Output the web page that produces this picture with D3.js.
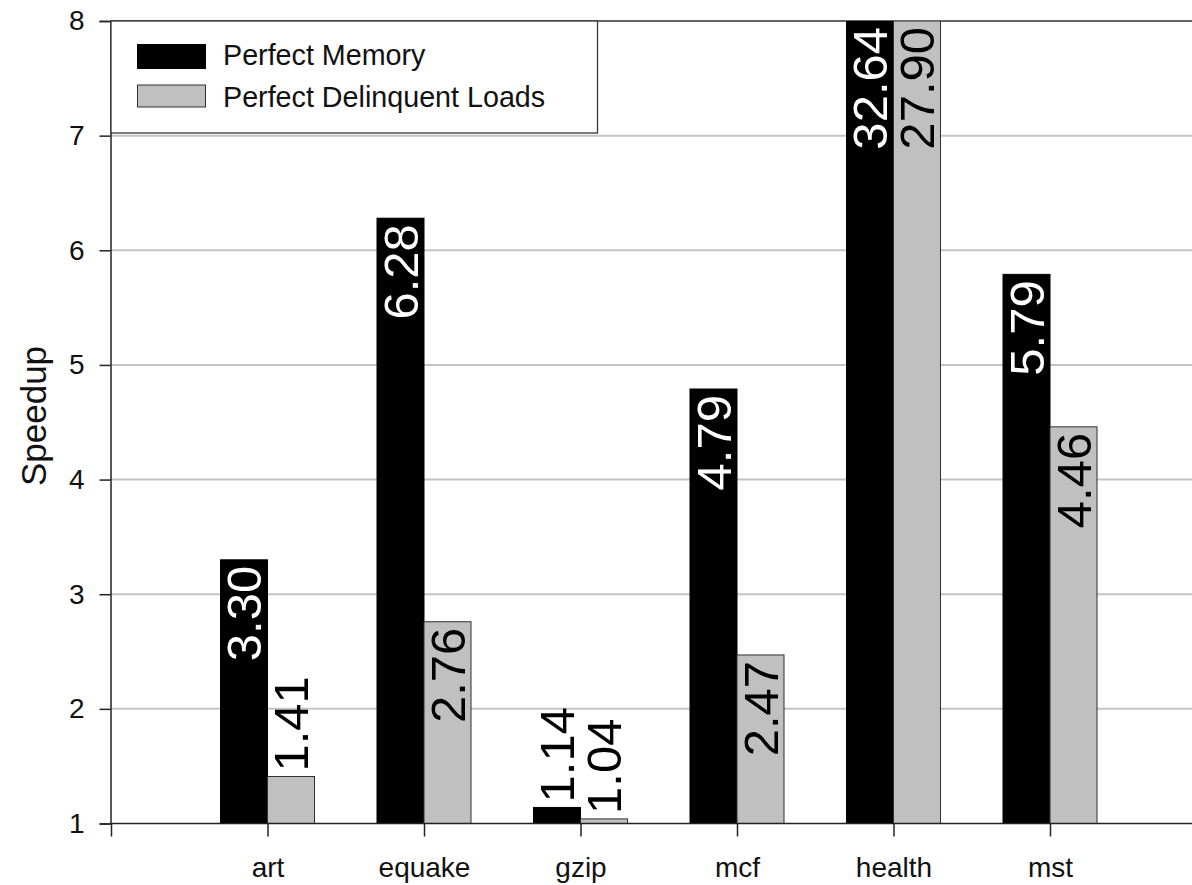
<!DOCTYPE html>
<html>
<head>
<meta charset="utf-8">
<script src="https://cdn.jsdelivr.net/npm/d3@7"></script>
<style>
  html, body { margin: 0; padding: 0; background: #fff; }
  svg { display: block; font-family: "Liberation Sans", Arial, sans-serif; }
</style>
</head>
<body>
<svg id="chart" width="1192" height="885"></svg>
<script>
const categories = ["art", "equake", "gzip", "mcf", "health", "mst"];
const perfectMemory = [3.30, 6.28, 1.14, 4.79, 32.64, 5.79];
const perfectDelinquent = [1.41, 2.76, 1.04, 2.47, 27.90, 4.46];
const seriesNames = ["Perfect Memory", "Perfect Delinquent Loads"];
const yTicks = [1, 2, 3, 4, 5, 6, 7, 8];

(function () {
const svg = d3.select("#chart");
const W = 1192, H = 885;
const mLeft = 110.5, mTop = 21, mBottom = 823.5;
const step = 156.5;

const x = d3.scaleLinear().domain([0, 7]).range([111, 111 + 7 * step]);
const y = d3.scaleLinear().domain([1, 8]).range([mBottom, mTop]);
const barW = 47;

const series = [
  { name: seriesNames[0], values: perfectMemory, fill: "#000000", stroke: "#000000", offset: -1, text: "#ffffff" },
  { name: seriesNames[1], values: perfectDelinquent, fill: "#c0c0c0", stroke: "#303030", offset: 0, text: "#000000" }
];

svg.append("defs").append("clipPath").attr("id", "plotclip")
  .append("rect").attr("x", mLeft).attr("y", mTop).attr("width", W - mLeft).attr("height", mBottom - mTop);

// gridlines
svg.append("g").selectAll("line").data(yTicks.filter(d => d > 1 && d < 8)).join("line")
  .attr("x1", mLeft).attr("x2", W)
  .attr("y1", d => y(d)).attr("y2", d => y(d))
  .attr("stroke", "#c4c4c4").attr("stroke-width", 2);

// top border
svg.append("line").attr("x1", mLeft).attr("x2", W).attr("y1", y(8)).attr("y2", y(8))
  .attr("stroke", "#333").attr("stroke-width", 1.5);

// bars
const gBars = svg.append("g").attr("clip-path", "url(#plotclip)");
series.forEach(s => {
  gBars.selectAll(null).data(s.values).join("rect")
    .attr("x", (d, i) => x(i + 1) + s.offset * barW)
    .attr("width", barW)
    .attr("y", d => y(Math.min(d, 8)))
    .attr("height", d => mBottom - y(Math.min(d, 8)))
    .attr("fill", s.fill)
    .attr("stroke", s.stroke)
    .attr("stroke-width", 1);
});

// axes
const yAxis = d3.axisLeft(y).tickValues(yTicks).tickFormat(d3.format("d")).tickSize(11).tickPadding(15);
const gy = svg.append("g").attr("transform", `translate(${mLeft},0)`).call(yAxis);
gy.select(".domain").attr("stroke", "#222").attr("stroke-width", 1.5);
gy.selectAll(".tick line").attr("stroke", "#222").attr("stroke-width", 1.5);
gy.selectAll(".tick text").attr("font-size", 28).attr("fill", "#111")
  .attr("font-family", "'Liberation Sans', Arial, sans-serif");

const xAxis = d3.axisBottom(x).tickValues([0, 1, 2, 3, 4, 5, 6])
  .tickFormat(i => i === 0 ? "" : categories[i - 1]).tickSize(13).tickPadding(21);
const gx = svg.append("g").attr("transform", `translate(0,${mBottom})`).call(xAxis);
gx.select(".domain").attr("d", `M${mLeft},0H${W}`).attr("stroke", "#222").attr("stroke-width", 1.5);
gx.selectAll(".tick line").attr("stroke", "#222").attr("stroke-width", 1.5);
gx.selectAll(".tick text").attr("font-size", 28).attr("fill", "#111")
  .attr("font-family", "'Liberation Sans', Arial, sans-serif");

// value labels
const gLab = svg.append("g");
series.forEach(s => {
  s.values.forEach((v, i) => {
    const cx = x(i + 1) + s.offset * barW + barW / 2;
    const yt = y(Math.min(v, 8));
    const h = mBottom - yt;
    const t = gLab.append("text")
      .attr("font-size", 49)
      .attr("dominant-baseline", "central")
      .text(d3.format(".2f")(v));
    const len = t.node().getComputedTextLength();
    const inside = h > len + 12;
    const pos = inside ? yt + 6 : yt - 5;
    t.attr("text-anchor", inside ? "end" : "start")
      .attr("fill", inside ? s.text : "#000")
      .attr("transform", `translate(${cx},${pos}) rotate(-90)`);
  });
});

// y title
svg.append("text")
  .attr("transform", `translate(33,416) rotate(-90)`)
  .attr("text-anchor", "middle")
  .attr("dominant-baseline", "central")
  .attr("font-size", 35)
  .attr("fill", "#111")
  .text("Speedup");

// legend
const lg = svg.append("g");
lg.append("rect").attr("x", 111).attr("y", 21).attr("width", 486.5).attr("height", 112)
  .attr("fill", "#fff").attr("stroke", "#333").attr("stroke-width", 1.3);
series.forEach((s, k) => {
  const yy = k === 0 ? 44.5 : 85;
  lg.append("rect").attr("x", 137.5).attr("y", yy).attr("width", 68).attr("height", k === 0 ? 24 : 22)
    .attr("fill", s.fill).attr("stroke", s.stroke).attr("stroke-width", 1);
  lg.append("text").attr("x", 223).attr("y", k === 0 ? 65 : 106.5)
    .attr("font-size", 28.7).attr("fill", "#111").text(s.name);
});
})();
</script>
</body>
</html>
